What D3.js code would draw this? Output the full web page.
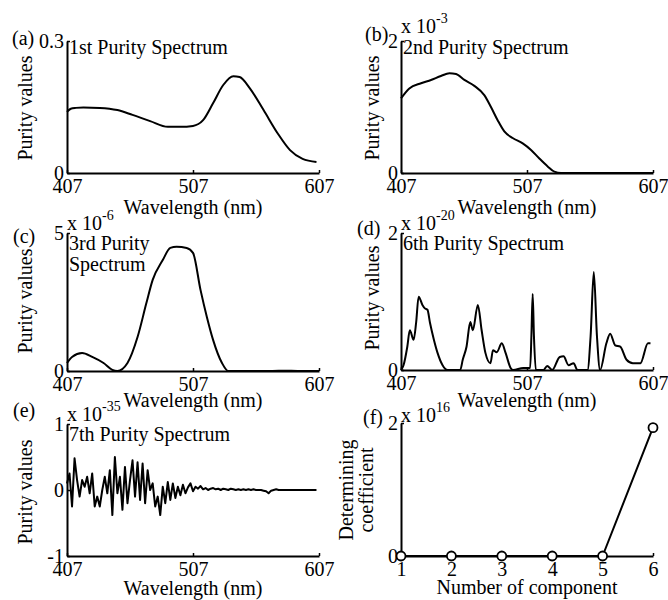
<!DOCTYPE html>
<html><head><meta charset="utf-8">
<script src="https://cdn.jsdelivr.net/npm/d3@7"></script>
<style>
body{margin:0;background:#fff}
svg{display:block}
svg text{font-family:'Liberation Serif','Times New Roman',Tinos,Times,'DejaVu Serif',serif !important;fill:#000}
</style>
</head><body><svg id="c" width="668" height="600"></svg>
<script>
// ---------- data ----------
const wavelengthTicks = [407, 507, 607];

const a_wl  = [407,410,414,420,433,447,459,473,487,497,507,515,523,531,539,544,552,563,574,584,594,605];
const a_val = [0.139,0.146,0.148,0.149,0.148,0.143,0.132,0.118,0.105,0.105,0.107,0.120,0.159,0.200,0.220,0.218,0.193,0.143,0.091,0.052,0.032,0.025];
const a_yTicks = [0, 0.3];

const b_wl  = [407,413.6,422.9,430.8,438.7,445.4,450.7,457.3,465.2,473.1,478.4,483.7,489,495.6,503.6,510.2,516.8,523.4,528.7,534,560,607];
const b_val = [1.13,1.28,1.36,1.41,1.47,1.51,1.50,1.41,1.32,1.18,1.00,0.80,0.63,0.53,0.45,0.35,0.22,0.10,0.02,0,0,0];
const b_yTicks = [0, 2];

const c_wl  = [407,411,419,427,436,443,447,455,463,470,475,483,489,494,502,507,513,518,523,530,535,570,580,590,607];
const c_val = [0.29,0.51,0.65,0.51,0.29,0.04,0,0.29,1.23,2.46,3.30,4.02,4.46,4.50,4.46,4.28,2.93,1.96,1.12,0.29,0,0,0.01,0,0];
const c_yTicks = [0, 5];

const d_wl  = [407,409,412,414,417,419,421,424,426,428,430,433,436,440,444,454,456,459,462,464,468,471,474,478,480,483,487,490,494,496,504,509.5,510.5,511.5,512.5,514,520,523,527,533,536,540,544,547,555,557.5,560,562.5,565,570,573,577,581,586,591,597,603,605];
const d_val = [0,0.07,0.34,0.58,0.44,0.69,1.07,0.95,0.90,0.88,0.69,0.45,0.25,0.07,0,0,0.15,0.34,0.70,0.58,0.95,0.58,0.25,0.10,0.29,0.26,0.39,0.25,0.03,0,0.03,0.03,0.5,1.11,0.5,0,0,0.06,0,0.19,0.20,0.07,0.10,0,0,0.5,1.43,0.5,0,0.39,0.53,0.36,0.34,0.15,0.10,0.10,0.39,0.39];
const d_yTicks = [0, 2];

const e_wl  = [407,409,411,413,415,417,419,421,423,425,427,429,431,433,435,437,439,441,443,445,447,449,451,453,455,457,459,461,463,465,467,469,471,473,475,477,479,481,483,485,487,489,491,493,495,497,499,501,503,505,507,509,511,513,515,517,519,521,523,525,527,529,531,533,535,537,539,541,543,545,547,549,551,553,555,557,559,561,563,565,567,569,571,573,575,577,579,581,583,585,587,589,591,593,595,597,599,601,603,605];
const e_val = [0.10,0.25,-0.25,0.48,0.15,-0.10,0.15,0.05,0.20,-0.05,0.25,-0.25,-0.10,-0.25,0.00,0.20,-0.05,0.30,-0.38,0.50,-0.05,0.20,-0.30,0.35,-0.20,0.15,0.45,-0.10,0.42,-0.15,0.40,-0.20,0.30,0.00,0.10,-0.25,-0.10,-0.38,0.05,-0.20,0.12,-0.15,0.10,-0.12,0.05,-0.08,0.08,-0.05,0.04,0.10,-0.02,0.05,0.02,0.06,0.01,0.03,0.00,0.02,0.03,0.01,0.02,0.00,0.02,0.01,0.00,0.02,0.01,0.00,0.01,0.00,0.01,0.00,0.01,0.00,0.01,0.00,0.00,0.00,-0.01,-0.02,-0.05,-0.01,0.00,0.01,0.00,0.00,0.00,0.00,0.00,0.00,0.00,0.00,0.00,0.00,0.00,0.00,0.00,0.00,0.00,0.00];
const e_yTicks = [-1, 0, 1];

const f_components = [1, 2, 3, 4, 5, 6];
const f_values     = [0, 0, 0, 0, 0, 1.93];
const f_yTicks     = [0, 2];

// ---------- drawing ----------
const svg = d3.select("#c");
const FS = 20;
const FONT = "'Liberation Serif','Times New Roman',Tinos,Times,'DejaVu Serif',serif";

function zip(xs, ys){ return xs.map((v,i)=>[v, ys[i]]); }

function panel(o){
  const g = svg.append("g");
  const x = d3.scaleLinear().domain(o.xd).range([o.xl, o.xr]);
  const y = d3.scaleLinear().domain(o.yd).range([o.yb, o.yt]);

  const line = d3.line().x(d=>x(d[0])).y(d=>y(d[1])).curve(o.curve || d3.curveLinear);
  g.append("path").datum(o.data).attr("d", line)
    .attr("fill","none").attr("stroke","#000").attr("stroke-width",2).attr("stroke-linejoin","round");

  const xa = g.append("g").attr("transform",`translate(0,${o.yb})`)
    .call(d3.axisBottom(x).tickValues(o.xt).tickSizeInner(-3).tickSizeOuter(0).tickPadding(6).tickFormat(d=>String(d)));
  const ya = g.append("g").attr("transform",`translate(${o.xl},0)`)
    .call(d3.axisLeft(y).tickValues(o.yt_).tickSizeInner(-3).tickSizeOuter(0).tickPadding(3).tickFormat(d=>String(d)));
  [xa, ya].forEach(a=>{
    a.attr("font-family",FONT).attr("font-size",FS);
    a.select(".domain").attr("stroke","#000").attr("stroke-width",2);
    a.selectAll(".tick line").attr("stroke","#000").attr("stroke-width",1.5);
    a.selectAll("text").attr("fill","#000");
  });
  ya.selectAll("text").attr("dy","0.33em");

  if (o.markers){
    g.selectAll("circle.m").data(o.data).enter().append("circle")
      .attr("cx",d=>x(d[0])).attr("cy",d=>y(d[1])).attr("r",4.5)
      .attr("fill","#fff").attr("stroke","#000").attr("stroke-width",1.8);
  }

  const T = (sel)=>sel.attr("font-family",FONT).attr("font-size",FS);

  T(g.append("text")).attr("x",o.letter[1]).attr("y",o.letter[2]).text(o.letter[0]);

  if (o.exp){
    const t = T(g.append("text")).attr("x",o.exp[1]).attr("y",o.exp[2]);
    t.append("tspan").text("x 10");
    t.append("tspan").attr("font-size",14).attr("dy",-10).text(o.exp[0]);
  }

  o.title.forEach((s,i)=>{
    T(g.append("text")).attr("x",o.xl+2).attr("y",o.titleY + i*21).text(s);
  });

  o.ylab.forEach(l=>{
    T(g.append("text")).attr("transform",`translate(${l[1]},${l[2]}) rotate(-90)`)
      .attr("text-anchor","middle").attr("dy","0.35em").text(l[0]);
  });

  T(g.append("text")).attr("x",(o.xl+o.xr)/2).attr("y",o.xlabY).attr("text-anchor","middle").text(o.xlab);
}

panel({xl:67,xr:319,yt:41,yb:173,xd:[407,607],yd:[0,0.3],xt:wavelengthTicks,yt_:a_yTicks,
  data:zip(a_wl,a_val),curve:d3.curveMonotoneX,letter:["(a)",12,45],
  title:["1st Purity Spectrum"],titleY:54,ylab:[["Purity values",25,108]],xlab:"Wavelength (nm)",xlabY:214});

panel({xl:401,xr:653,yt:41,yb:173,xd:[407,607],yd:[0,2],xt:wavelengthTicks,yt_:b_yTicks,
  data:zip(b_wl,b_val),curve:d3.curveMonotoneX,letter:["(b)",365,41],exp:["-3",401,33],
  title:["2nd Purity Spectrum"],titleY:54,ylab:[["Purity values",372,108]],xlab:"Wavelength (nm)",xlabY:214});

panel({xl:67,xr:319,yt:233,yb:371,xd:[407,607],yd:[0,5],xt:wavelengthTicks,yt_:c_yTicks,
  data:zip(c_wl,c_val),curve:d3.curveMonotoneX,letter:["(c)",13,243],exp:["-6",67,230],
  title:["3rd Purity","Spectrum"],titleY:250,ylab:[["Purity values",25,301]],xlab:"Wavelength (nm)",xlabY:407});

panel({xl:401,xr:653,yt:233,yb:370,xd:[407,607],yd:[0,2],xt:wavelengthTicks,yt_:d_yTicks,
  data:zip(d_wl,d_val),curve:d3.curveMonotoneX,letter:["(d)",357,235],exp:["-20",401,230],
  title:["6th Purity Spectrum"],titleY:250,ylab:[["Purity values",372,298]],xlab:"Wavelength (nm)",xlabY:407});

panel({xl:67,xr:319,yt:424,yb:556,xd:[407,607],yd:[-1,1],xt:wavelengthTicks,yt_:e_yTicks,
  data:zip(e_wl,e_val),curve:d3.curveLinear,letter:["(e)",13,417],exp:["-35",67,421],
  title:["7th Purity Spectrum"],titleY:441,ylab:[["Purity values",25,492]],xlab:"Wavelength (nm)",xlabY:595});

panel({xl:401,xr:653,yt:423,yb:556,xd:[1,6],yd:[0,2],xt:f_components,yt_:f_yTicks,
  data:zip(f_components,f_values),curve:d3.curveLinear,markers:true,letter:["(f)",363,424],exp:["16",401,422],
  title:[],titleY:0,ylab:[["Determining",346,490],["coefficient",366,490]],xlab:"Number of component",xlabY:594});
</script>
</body></html>
